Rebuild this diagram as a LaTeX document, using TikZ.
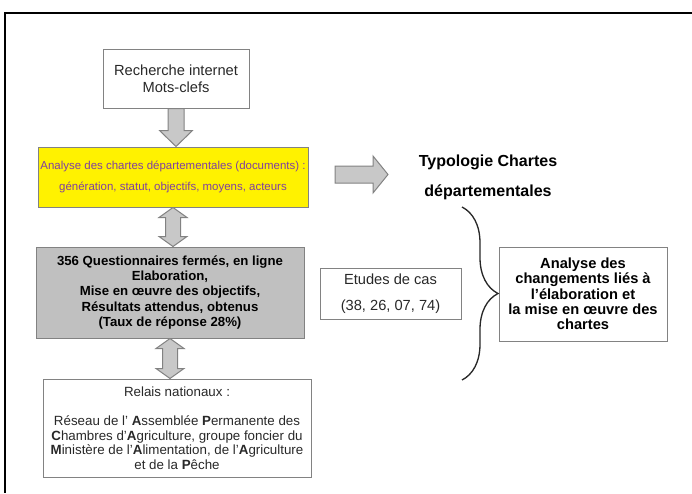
\documentclass[tikz,border=0pt]{standalone}
\usepackage{fontspec}
\setmainfont{Liberation Sans}
\usetikzlibrary{calc,decorations.pathreplacing}
\definecolor{grisfleche}{RGB}{200,200,200}
\definecolor{bordgris}{RGB}{130,130,130}
\definecolor{grisboite}{RGB}{192,192,192}
\definecolor{violetjaune}{RGB}{128,64,160}
\definecolor{texte}{RGB}{40,40,40}
\begin{document}
\begin{tikzpicture}[x=0.75pt,y=-0.75pt,
    boite/.style={draw=bordgris,line width=0.75pt,align=center,inner sep=0pt,text=texte},
    fleche/.style={fill=grisfleche,draw=bordgris,line width=0.75pt}]

\def\flechebas#1#2{%
  \coordinate (fbH) at (#1);
  \coordinate (fbB) at (#1 |- #2);
  \draw[fleche] ($(fbH)+(-8,0)$) -- ($(fbH)+(8,0)$) -- ($(fbB)+(8,-16)$)
    -- ($(fbB)+(16.5,-16)$) -- (fbB) -- ($(fbB)+(-16.5,-16)$) -- ($(fbB)+(-8,-16)$) -- cycle;}
\def\flechedouble#1#2{%
  \coordinate (fdH) at (#1);
  \coordinate (fdB) at (#1 |- #2);
  \draw[fleche] (fdH) -- ($(fdH)+(14,10)$) -- ($(fdH)+(7.5,10)$) -- ($(fdB)+(7.5,-10)$)
    -- ($(fdB)+(14,-10)$) -- (fdB) -- ($(fdB)+(-14,-10)$) -- ($(fdB)+(-7.5,-10)$)
    -- ($(fdH)+(-7.5,10)$) -- ($(fdH)+(-14,10)$) -- cycle;}

\useasboundingbox (0,0) rectangle (692,493);
\draw[line width=1.5pt] (692,13) -- (5,13) -- (5,493);

\node[boite,minimum width=109.5pt,minimum height=44.25pt,
  font=\fontsize{11}{12.5}\selectfont] (rech) at (176,78.5) {Recherche internet\\Mots-clefs};
\node[boite,fill=yellow,text=violetjaune,minimum width=202.5pt,minimum height=45pt,
  font=\fontsize{8.6}{15.5}\selectfont] (yel) at (173,177)
  {Analyse des chartes départementales (documents) :\\génération, statut, objectifs, moyens, acteurs};
\node[boite,fill=grisboite,text=black,minimum width=201pt,minimum height=68.25pt,
  font=\bfseries\fontsize{9.9}{11.6}\selectfont] (quest) at (170,292.5)
  {356 Questionnaires fermés, en ligne\\Elaboration,\\Mise en œuvre des objectifs,\\Résultats attendus, obtenus\\(Taux de réponse 28\%)};
\node[boite,minimum width=201pt,minimum height=73.5pt,
  font=\fontsize{10}{10.9}\selectfont] (relais) at (177,428)
  {Relais nationaux :\\[10.9pt]Réseau de l' \textbf{A}ssemblée \textbf{P}ermanente des\\
   \textbf{C}hambres d'\textbf{A}griculture, groupe foncier du\\
   \textbf{M}inistère de l'\textbf{A}limentation, de l'\textbf{A}griculture\\et de la \textbf{P}êche};
\node[boite,minimum width=105.75pt,minimum height=38.25pt,
  font=\fontsize{11}{19.5}\selectfont] (etudes) at (390.5,293.5) {Etudes de cas\\(38, 26, 07, 74)};
\node[align=center,font=\bfseries\fontsize{12}{22.5}\selectfont] (typo) at (488,177)
  {Typologie Chartes\\départementales};
\node[boite,text=black,minimum width=126pt,minimum height=70.5pt,
  font=\bfseries\fontsize{11}{11.5}\selectfont] (chgt) at (583,294)
  {Analyse des\\changements liés à\\l'élaboration et\\la mise en œuvre des\\chartes};

\flechebas{rech.south}{yel.north}
\flechedouble{yel.south}{quest.north}
\flechedouble{quest.south}{relais.north}

\coordinate (flD) at (335,174.5);
\coordinate (flF) at (388,174.5);
\draw[fleche] ($(flD)+(0,-8.5)$) -- ($(flF)+(-15,-8.5)$) -- ($(flF)+(-15,-18.5)$) -- (flF)
  -- ($(flF)+(-15,18.5)$) -- ($(flF)+(-15,8.5)$) -- ($(flD)+(0,8.5)$) -- cycle;

\coordinate (accH) at (462,207);
\coordinate (accB) at (462,380);
\draw[decorate,decoration={brace,amplitude=27pt},line width=1pt,draw=texte] (accH) -- (accB);

\end{tikzpicture}
\end{document}
